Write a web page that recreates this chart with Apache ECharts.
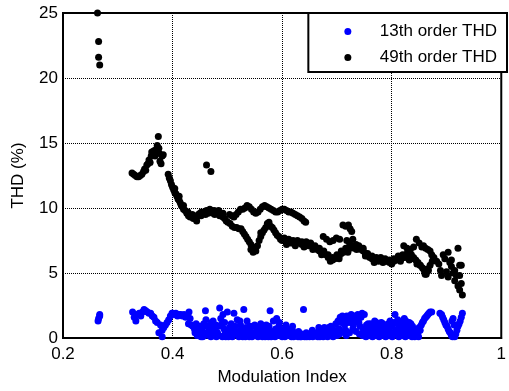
<!DOCTYPE html>
<html>
<head>
<meta charset="utf-8">
<script src="https://cdn.jsdelivr.net/npm/echarts@6/dist/echarts.min.js"></script>
<style>
  html, body { margin: 0; padding: 0; background: #fff; }
  #container1 { width: 509px; height: 391px; }
</style>
</head>
<body>
<div id="container1"></div>
<script>
// series names
var seriesNames = ['13th order THD', '49th order THD'];

// axis ranges / ticks
var xTicks = [0.2, 0.4, 0.6, 0.8, 1];
var yTicks = [0, 5, 10, 15, 20, 25];

// 13th order THD: [modulation index, THD %]
var thd13 = [
  [0.264,1.3],[0.265,1.5],[0.267,1.8],[0.267,1.7],
  [0.327,2.0],[0.330,1.6],[0.333,1.3],[0.336,1.8],[0.339,1.9],[0.342,1.7],[0.345,2.0],[0.348,2.2],
  [0.351,2.1],[0.354,2.0],[0.357,1.9],[0.360,1.9],[0.363,1.7],[0.366,1.6],[0.369,1.3],[0.372,1.2],
  [0.375,0.4],[0.378,1.0],[0.381,0.6],[0.381,0.1],[0.384,0.8],[0.387,1.0],[0.390,1.2],[0.393,1.4],
  [0.396,1.7],[0.399,1.9],
  [0.400,1.9],[0.403,1.8],[0.406,1.9],[0.409,1.7],[0.412,1.8],[0.415,1.8],[0.418,1.7],[0.421,1.8],
  [0.424,1.6],[0.427,1.7],[0.430,2.0],[0.432,1.5],[0.429,1.1],[0.434,1.0],[0.437,0.9],[0.440,0.7],
  [0.441,0.4],[0.443,1.1],[0.446,0.7],[0.448,0.3],[0.450,0.5],[0.452,0.1],[0.454,0.8],[0.456,0.4],
  [0.458,0.2],[0.460,2.1],[0.461,1.4],[0.463,0.9],[0.465,0.5],[0.467,0.2],[0.469,0.9],[0.471,1.2],
  [0.473,0.6],[0.474,1.3],[0.476,0.3],[0.478,0.6],[0.480,0.1],[0.482,0.4],[0.484,0.9],[0.486,2.3],
  [0.488,1.5],[0.490,1.1],[0.492,1.8],[0.494,0.7],[0.496,0.3],[0.498,0.5],[0.500,2.0],[0.502,0.1],
  [0.504,0.8],[0.506,0.4],[0.508,0.2],[0.510,0.6],[0.512,1.9],[0.514,0.9],[0.516,0.3],[0.518,1.4],
  [0.520,0.5],[0.522,0.2],[0.524,1.0],[0.526,0.7],[0.528,0.1],[0.530,2.2],[0.532,0.4],[0.534,0.8],
  [0.536,1.3],[0.538,0.3],[0.540,0.1],[0.542,0.5],[0.544,0.2],[0.546,0.9],[0.548,0.4],[0.550,1.0],
  [0.552,0.2],[0.554,0.6],[0.556,0.1],[0.558,0.7],[0.560,0.3],[0.562,0.9],[0.564,0.1],[0.566,0.5],
  [0.568,0.8],[0.570,0.2],[0.572,0.6],[0.574,0.3],[0.576,0.9],[0.578,2.1],[0.580,0.1],[0.582,0.5],
  [0.584,1.3],[0.586,0.3],[0.588,0.7],[0.590,1.5],[0.592,0.2],[0.594,0.9],[0.596,0.4],[0.598,0.6],
  [0.600,0.1],[0.603,0.5],[0.606,0.8],[0.609,0.2],[0.612,0.6],[0.615,0.3],[0.618,0.7],[0.621,0.1],
  [0.624,0.4],[0.627,0.2],[0.630,0.5],[0.633,0.1],[0.636,0.3],[0.639,2.2],[0.641,0.1],[0.644,0.4],
  [0.647,0.2],[0.650,0.1],[0.653,0.3],[0.656,0.1],[0.659,0.2],[0.662,0.4],[0.665,0.1],[0.668,0.3],
  [0.671,0.6],[0.674,0.2],[0.677,0.8],[0.680,0.4],[0.683,0.1],[0.686,0.5],[0.689,0.9],[0.692,0.3],
  [0.695,0.6],[0.698,1.1],[0.700,0.2],[0.702,1.3],[0.704,0.7],[0.706,1.6],[0.708,1.2],[0.710,1.7],
  [0.712,1.4],[0.714,1.0],[0.716,0.6],[0.718,1.7],[0.720,1.5],[0.722,1.2],[0.724,1.6],[0.726,1.8],
  [0.728,1.4],[0.730,1.0],[0.732,1.7],[0.734,1.3],[0.736,1.6],[0.738,1.8],[0.740,1.2],[0.742,0.9],
  [0.744,1.6],[0.746,1.9],[0.748,0.7],[0.750,1.8],[0.752,0.5],[0.754,1.0],[0.756,0.3],[0.758,0.8],
  [0.760,0.4],[0.762,1.1],[0.764,0.6],[0.766,0.2],[0.768,0.9],[0.770,0.5],[0.772,1.2],[0.774,0.3],
  [0.776,0.7],[0.778,1.0],[0.780,0.4],[0.782,0.8],[0.784,1.1],[0.786,0.2],[0.788,0.6],[0.790,0.9],
  [0.792,0.3],[0.794,1.1],[0.796,0.7],[0.798,0.4],[0.800,0.9],[0.802,0.2],[0.804,1.2],[0.806,1.8],
  [0.808,0.6],[0.810,0.3],[0.812,1.0],[0.814,0.5],[0.816,1.2],[0.818,0.8],[0.820,0.3],[0.822,1.1],
  [0.824,0.6],[0.826,1.3],[0.828,0.9],[0.830,0.4],[0.832,1.2],[0.834,0.7],[0.836,0.3],[0.838,0.9],
  [0.840,0.5],[0.842,0.1],[0.844,0.3],[0.846,0.6],[0.848,0.4],[0.850,0.8],[0.852,0.6],[0.854,1.0],
  [0.856,1.2],[0.858,1.3],[0.860,1.5],[0.862,1.6],[0.864,1.7],[0.866,1.8],[0.868,1.9],[0.870,2.0],
  [0.873,2.0],
  [0.888,1.9],[0.891,1.8],[0.893,1.6],[0.895,1.4],[0.897,1.2],[0.899,1.0],[0.901,0.9],[0.903,0.7],
  [0.905,0.5],[0.907,0.4],[0.909,0.2],[0.911,0.1],[0.913,0.2],[0.915,0.1],[0.917,0.3],[0.919,0.6],
  [0.921,0.9],[0.923,1.1],[0.925,1.3],[0.927,1.6],[0.929,1.9],[0.912,1.5],[0.910,1.3],[0.914,1.0],
  // dense low band
  [0.445,0.2],[0.455,0.1],[0.462,0.3],[0.470,0.1],[0.477,0.4],[0.485,0.2],[0.491,0.1],[0.497,0.1],
  [0.503,0.3],[0.509,0.1],[0.515,0.5],[0.521,0.1],[0.527,0.3],[0.533,0.1],[0.539,0.6],[0.545,0.1],
  [0.551,0.4],[0.557,0.3],[0.563,0.5],[0.569,0.1],[0.575,0.1],[0.581,0.3],[0.587,0.1],[0.593,0.4],
  [0.599,0.3],[0.605,0.1],[0.611,0.3],[0.617,0.1],[0.623,0.2],[0.629,0.1],[0.635,0.1],[0.640,0.2],
  [0.645,0.1],[0.651,0.2],[0.657,0.3],[0.663,0.2],[0.669,0.1],[0.675,0.1],[0.681,0.3],[0.687,0.2],
  [0.693,0.1],[0.699,0.4],[0.705,0.3],[0.711,0.5],[0.717,0.2],[0.723,0.4],[0.729,0.7],[0.735,0.5],
  [0.741,0.3],[0.747,0.2],[0.753,0.1],[0.759,0.2],[0.765,0.1],[0.771,0.2],[0.777,0.1],[0.783,0.3],
  [0.789,0.1],[0.795,0.2],[0.801,0.1],[0.807,0.4],[0.813,0.1],[0.819,0.2],[0.825,0.1],[0.831,0.2],
  [0.837,0.1],[0.843,0.2],[0.849,0.1],
  [0.449,0.9],[0.457,1.1],[0.479,1.0],[0.495,1.2],[0.507,1.1],[0.523,1.3],[0.541,0.9],[0.561,1.1],
  [0.571,1.0],[0.595,1.2],[0.607,1.0],[0.619,0.9],[0.655,0.6],[0.667,0.8],[0.685,0.8],[0.757,1.1],
  [0.769,1.3],[0.781,1.2],[0.797,1.3],[0.811,1.4],[0.823,1.5],[0.835,1.1]
];

// 49th order THD: [modulation index, THD %]
var thd49 = [
  [0.263,25.0],[0.265,22.8],[0.265,21.6],[0.267,21.0],
  [0.326,12.7],[0.329,12.6],[0.332,12.5],[0.335,12.4],[0.338,12.4],[0.341,12.5],[0.344,12.6],[0.347,12.8],
  [0.349,13.0],[0.351,12.9],[0.353,13.3],[0.355,13.4],[0.357,13.7],[0.359,13.5],[0.361,14.0],[0.362,14.3],
  [0.364,14.2],[0.366,14.4],[0.368,14.0],[0.370,14.5],[0.372,14.8],[0.374,15.5],[0.375,14.6],[0.376,14.2],
  [0.377,13.6],[0.379,13.4],[0.381,14.0],[0.383,14.1],
  [0.392,12.6],[0.394,12.3],[0.396,12.1],[0.398,11.8],[0.400,11.6],[0.402,11.4],[0.404,11.2],[0.406,11.1],
  [0.408,10.9],[0.410,10.7],[0.412,10.6],[0.414,10.4],[0.416,10.2],[0.418,10.1],[0.420,9.9],[0.423,9.8],
  [0.426,9.6],[0.429,9.4],[0.432,9.3],[0.435,9.3],[0.438,9.2],[0.441,9.2],[0.444,9.3],[0.447,9.5],
  [0.450,9.6],[0.453,9.7],[0.456,9.6],[0.459,9.7],[0.462,9.8],[0.465,9.6],[0.468,9.7],[0.471,9.8],
  [0.474,9.6],[0.477,9.5],[0.480,9.7],[0.483,9.6],[0.486,9.4],[0.489,9.5],[0.492,9.3],[0.495,9.2],
  [0.498,9.0],[0.501,8.9],
  [0.404,11.5],[0.412,10.9],[0.420,10.2],[0.428,9.7],[0.436,9.5],[0.444,9.0],[0.452,9.4],[0.460,9.5],
  [0.468,9.9],[0.476,9.8],[0.484,9.8],[0.492,9.6],
  [0.462,13.3],[0.470,12.8],
  [0.504,9.5],[0.508,9.4],[0.512,9.3],[0.516,9.5],[0.520,9.7],[0.524,9.9],[0.528,9.9],[0.532,10.0],
  [0.536,10.2],[0.540,10.1],[0.544,9.9],[0.548,9.7],[0.552,9.6],[0.556,9.7],[0.560,9.9],[0.564,10.1],
  [0.568,10.2],[0.572,10.1],[0.576,10.0],[0.580,9.9],[0.584,9.8],[0.588,9.7],[0.592,9.7],[0.596,9.8],
  [0.600,9.9],[0.604,9.9],[0.608,9.8],[0.612,9.7],[0.616,9.7],[0.620,9.6],[0.624,9.5],[0.628,9.4],
  [0.632,9.3],[0.636,9.2],[0.640,9.0],[0.643,8.9],
  [0.505,8.8],[0.509,8.6],[0.513,8.5],[0.517,8.5],[0.521,8.4],[0.525,8.4],[0.528,8.2],[0.531,8.0],
  [0.534,7.8],[0.537,7.6],[0.540,7.4],[0.543,7.2],[0.546,7.0],[0.549,6.8],[0.552,6.7],[0.547,6.6],
  [0.543,6.8],[0.555,7.1],[0.558,7.5],[0.561,7.8],[0.561,8.1],[0.564,8.1],[0.567,8.3],[0.570,8.5],
  [0.573,8.8],[0.576,8.9],[0.579,8.6],[0.582,8.5],[0.585,8.3],[0.588,8.1],[0.591,7.9],[0.594,7.8],
  [0.597,7.6],[0.600,7.5],[0.604,7.5],[0.608,7.4],[0.612,7.4],[0.616,7.3],[0.620,7.3],[0.624,7.3],
  [0.628,7.3],[0.632,7.3],[0.636,7.2],[0.640,7.2],[0.644,7.2],[0.648,7.1],[0.652,7.1],[0.656,7.0],
  [0.660,6.9],[0.664,6.8],[0.668,6.7],[0.672,6.6],[0.676,6.5],[0.680,6.4],[0.684,6.2],[0.688,6.1],
  [0.692,6.0],[0.696,6.1],[0.700,6.2],[0.704,6.3],[0.708,6.5],[0.712,6.6],[0.716,6.7],[0.720,6.8],
  [0.724,6.9],[0.728,7.0],[0.732,6.9],[0.736,7.0],[0.740,6.9],[0.744,6.8],[0.748,6.7],[0.752,6.5],
  [0.756,6.3],[0.760,6.2],[0.764,6.1],[0.768,6.0],[0.772,6.0],[0.776,5.9],[0.780,6.0],[0.784,6.0],
  [0.788,5.9],[0.792,5.9],[0.796,5.8],[0.800,5.9],[0.804,5.9],[0.808,6.0],[0.812,6.1],[0.816,6.1],
  [0.820,6.2],[0.824,6.2],[0.828,6.3],[0.832,6.2],[0.836,6.1],[0.840,6.2],[0.844,6.0],[0.848,5.8],
  [0.852,5.6],[0.856,5.4],[0.860,5.1],[0.863,4.9],[0.866,5.3],[0.870,5.6],[0.874,5.9],[0.877,6.2],
  [0.604,7.7],[0.612,7.6],[0.620,7.5],[0.628,7.5],[0.636,7.4],[0.644,7.4],[0.652,7.3],[0.660,7.1],
  [0.668,6.9],[0.676,6.7],[0.684,6.4],[0.692,6.2],[0.700,6.4],[0.708,6.7],[0.716,6.9],[0.724,7.1],
  [0.732,7.1],[0.740,7.1],[0.748,6.9],[0.756,6.5],[0.764,6.3],[0.772,6.2],[0.780,6.2],[0.788,6.1],
  [0.796,6.0],[0.804,6.1],[0.812,6.3],[0.820,6.4],[0.828,6.5],[0.836,6.4],
  [0.608,7.2],[0.624,7.1],[0.640,7.0],[0.656,6.8],[0.672,6.4],[0.688,5.9],[0.704,6.1],[0.720,6.6],
  [0.736,6.8],[0.752,6.3],[0.768,5.8],[0.784,5.8],[0.800,5.7],[0.816,5.9],[0.832,6.0],[0.846,5.7],
  [0.675,7.8],[0.681,7.6],[0.687,7.4],[0.693,7.5],[0.699,7.7],[0.705,7.6],[0.711,8.7],[0.716,8.6],
  [0.721,8.7],[0.724,8.4],[0.727,8.2],[0.718,7.5],[0.723,7.3],[0.729,7.6],[0.735,7.2],
  [0.822,7.1],[0.828,6.9],[0.834,6.8],[0.840,7.0],[0.845,7.6],[0.850,7.3],[0.855,7.0],[0.858,7.1],
  [0.862,6.9],[0.866,6.8],[0.870,6.7],[0.873,6.4],[0.876,6.1],[0.852,5.6],[0.858,5.3],[0.861,4.9],
  [0.867,5.2],
  [0.882,5.9],[0.886,5.7],[0.889,5.2],[0.891,4.8],[0.894,6.4],[0.897,6.1],[0.900,5.1],[0.903,6.6],
  [0.903,4.7],[0.906,5.8],[0.909,6.0],[0.909,5.5],[0.912,5.0],[0.915,5.2],[0.915,4.4],[0.918,4.8],
  [0.921,6.9],[0.921,4.0],[0.924,5.6],[0.924,4.8],[0.924,3.7],[0.927,5.6],[0.927,4.2],[0.929,3.3]
];

var dom = document.getElementById("container1");
var myChart = echarts.init(dom, null, { renderer: 'canvas' });
var fontFam = '"Liberation Sans", Arial, sans-serif';

var option = {
    animation: false,
    backgroundColor: '#fff',
    textStyle: { fontFamily: fontFam },
    color: ['#0000ff', '#000000'],
    grid: {
        left: 63, right: 1, top: 13, bottom: 53,
        show: true, borderColor: '#000', borderWidth: 2
    },
    legend: {
        orient: 'vertical',
        right: 2, top: 13,
        backgroundColor: '#fff',
        borderColor: '#000',
        borderWidth: 2,
        borderRadius: 0,
        padding: [10, 10, 6, 36],
        itemGap: 9,
        icon: 'circle',
        itemWidth: 54,
        itemHeight: 7,
        textStyle: { color: '#000', fontSize: 17, fontFamily: fontFam },
        data: seriesNames
    },
    xAxis: {
        type: 'value',
        min: xTicks[0], max: xTicks[xTicks.length - 1], interval: 0.2,
        name: 'Modulation Index',
        nameLocation: 'middle',
        nameGap: 31,
        nameTextStyle: { color: '#000', fontSize: 17, fontFamily: fontFam },
        axisLine: { lineStyle: { color: '#000', width: 2 } },
        axisTick: { show: false },
        axisLabel: { color: '#000', fontSize: 17, margin: 8, fontFamily: fontFam },
        splitLine: { show: true, lineStyle: { color: '#000', type: 'dotted', width: 1 } }
    },
    yAxis: {
        type: 'value',
        min: yTicks[0], max: yTicks[yTicks.length - 1], interval: 5,
        name: 'THD (%)',
        nameLocation: 'middle',
        nameGap: 36,
        nameTextStyle: { color: '#000', fontSize: 17, fontFamily: fontFam },
        axisLine: { show: true, lineStyle: { color: '#000', width: 2 } },
        axisTick: { show: false },
        axisLabel: { color: '#000', fontSize: 17, margin: 5, fontFamily: fontFam },
        splitLine: { show: true, lineStyle: { color: '#000', type: 'dotted', width: 1 } }
    },
    series: [
        {
            name: seriesNames[0],
            type: 'scatter',
            symbol: 'circle',
            symbolSize: 7,
            itemStyle: { color: '#0000ff', opacity: 1 },
            data: thd13
        },
        {
            name: seriesNames[1],
            type: 'scatter',
            symbol: 'circle',
            symbolSize: 7,
            itemStyle: { color: '#000000', opacity: 1 },
            data: thd49
        }
    ]
};
if (option && typeof option === "object") {
    myChart.setOption(option, true);
}
</script>
</body>
</html>
